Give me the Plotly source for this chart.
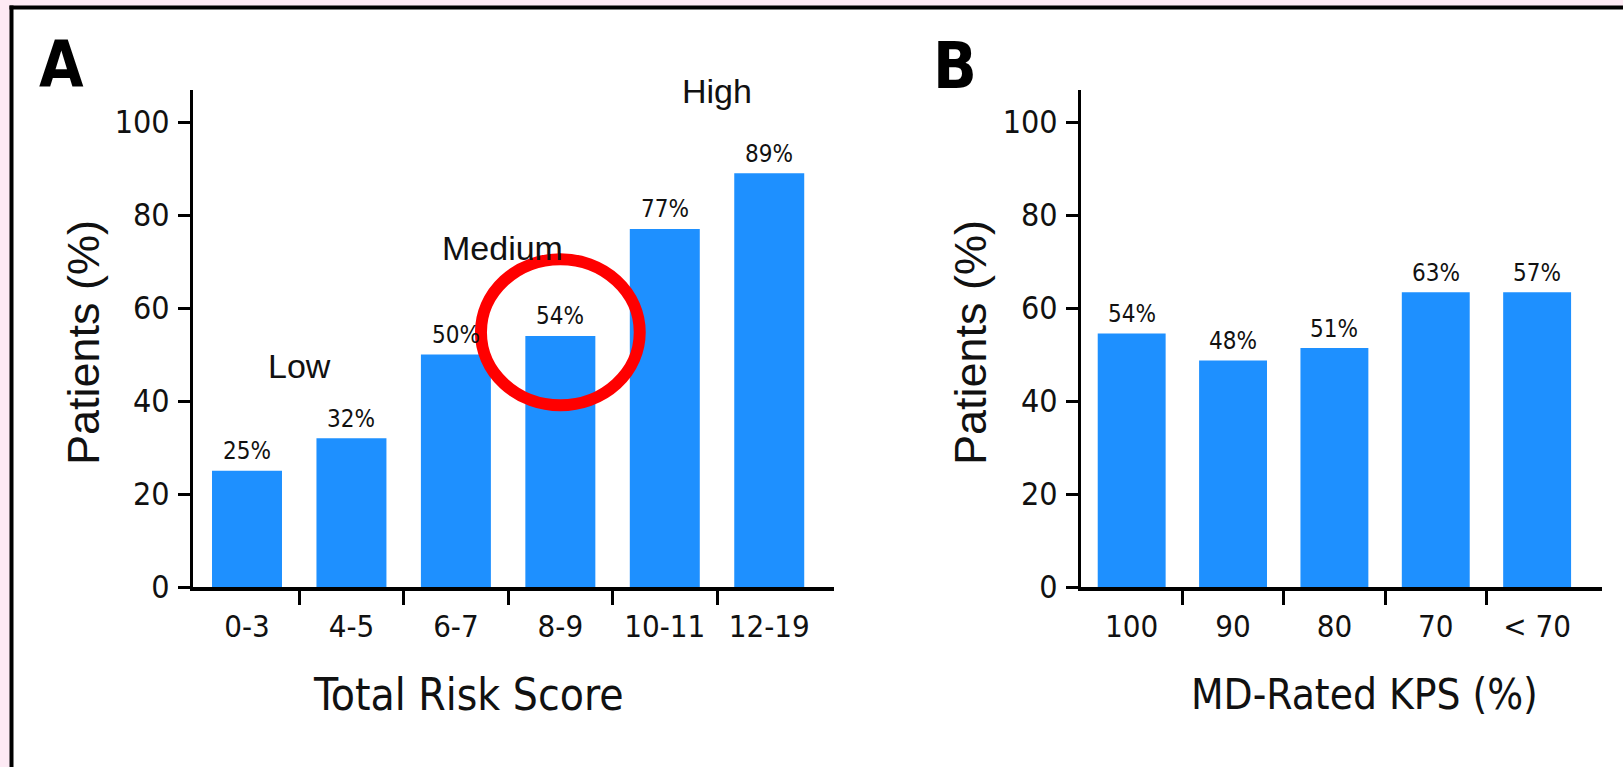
import plotly.graph_objects as go

# ---------------- data ----------------
cats_a = ["0-3", "4-5", "6-7", "8-9", "10-11", "12-19"]
vals_a = [25, 32, 50, 54, 77, 89]
labels_a = ["25%", "32%", "50%", "54%", "77%", "89%"]

cats_b = ["100", "90", "80", "70", "< 70"]
vals_b = [54.5, 48.7, 51.4, 63.4, 63.4]
labels_b = ["54%", "48%", "51%", "63%", "57%"]

groups_a = ["Low", "Medium", "High"]
groups_pos = [0.5, 2.45, 4.5]
groups_y = [47.5, 72.9, 106.7]

y_ticks = [0, 20, 40, 60, 80, 100]
highlight = 3  # index of highlighted bar in panel A

# figure is slightly larger than the 1623x767 window so its edges fall off-screen
W, H = 1660, 790
NARROW = "DejaVu Sans Condensed, Liberation Sans Narrow, Arial Narrow, Liberation Sans, Arial"
REG = "Liberation Sans, Arial, Helvetica"
BLUE = "#1E90FF"


def px(v):
    return v / W


def py(v):
    return 1 - v / H


fig = go.Figure()

xa = list(range(len(cats_a)))
xb = list(range(len(cats_b)))

fig.add_trace(go.Bar(x=xa, y=vals_a, marker=dict(color=BLUE, line=dict(width=0)),
                     width=0.67, xaxis="x", yaxis="y", showlegend=False, hoverinfo="skip"))
fig.add_trace(go.Bar(x=xb, y=vals_b, marker=dict(color=BLUE, line=dict(width=0)),
                     width=0.67, xaxis="x2", yaxis="y2", showlegend=False, hoverinfo="skip"))


def xaxis_cfg(domain, n, cats, rng, anchor):
    return dict(
        domain=domain, range=rng, tickmode="array", tickvals=list(range(n)), ticktext=cats,
        ticks="outside", ticklen=9, tickcolor="rgba(0,0,0,0)",
        tickfont=dict(family=NARROW, size=31, color="#111"),
        showline=True, linecolor="black", linewidth=3.5, showgrid=False, zeroline=False,
        minor=dict(tickmode="array", tickvals=[i + 0.5 for i in range(n - 1)],
                   ticks="outside", ticklen=14, tickwidth=2.5, tickcolor="black", showgrid=False),
        fixedrange=True, automargin=False, anchor=anchor,
    )


def yaxis_cfg(domain, anchor):
    return dict(
        domain=domain, range=[0, 107], tickmode="array", tickvals=y_ticks,
        ticks="outside", ticklen=12, tickwidth=2.5, tickcolor="black",
        tickfont=dict(family=NARROW, size=32, color="#111"), ticklabelstandoff=2,
        showline=True, linecolor="black", linewidth=3, showgrid=False, zeroline=False,
        anchor=anchor, fixedrange=True, automargin=False,
    )


ydom = [py(587), py(89.5)]
fig.update_layout(
    template="none",
    width=W, height=H, autosize=False, margin=dict(l=0, r=0, t=0, b=0, pad=0),
    paper_bgcolor="#FDEAF4", plot_bgcolor="rgba(0,0,0,0)",
    showlegend=False,
    xaxis=xaxis_cfg([px(193), px(834)], len(cats_a), cats_a, [-0.517, 5.62], "y"),
    yaxis=yaxis_cfg(ydom, "x"),
    xaxis2=xaxis_cfg([px(1081), px(1602)], len(cats_b), cats_b, [-0.50, 4.64], "y2"),
    yaxis2=yaxis_cfg(ydom, "x2"),
)

# white background panel with black top and left borders only
fig.add_shape(type="rect", xref="paper", yref="paper",
              x0=px(11.5), x1=1.2, y0=-0.2, y1=py(7.5),
              fillcolor="white", line=dict(width=0), layer="below")
fig.add_shape(type="line", xref="paper", yref="paper",
              x0=px(9.5), x1=1.2, y0=py(7.5), y1=py(7.5),
              line=dict(color="black", width=4), layer="below")
fig.add_shape(type="line", xref="paper", yref="paper",
              x0=px(11.5), x1=px(11.5), y0=-0.2, y1=py(5.5),
              line=dict(color="black", width=4), layer="below")

ann = []
# value labels
for i, (v, t) in enumerate(zip(vals_a, labels_a)):
    ann.append(dict(x=i, y=v, xref="x", yref="y", text=t, showarrow=False,
                    xanchor="center", yanchor="middle",
                    yshift=19.5, font=dict(family=NARROW, size=24, color="#111")))
for i, (v, t) in enumerate(zip(vals_b, labels_b)):
    ann.append(dict(x=i, y=v, xref="x2", yref="y2", text=t, showarrow=False,
                    xanchor="center", yanchor="middle",
                    yshift=19.5, font=dict(family=NARROW, size=24, color="#111")))
# risk group labels
for g, gx, gy in zip(groups_a, groups_pos, groups_y):
    ann.append(dict(x=gx, y=gy, xref="x", yref="y", text=g, showarrow=False,
                    xanchor="center", yanchor="middle",
                    font=dict(family=REG, size=34, color="#111")))
# panel letters
for lx, ly, letter in [(61, 64.5, "A"), (955, 66, "B")]:
    ann.append(dict(x=px(lx), y=py(ly), xref="paper", yref="paper", text="<b>%s</b>" % letter,
                    xanchor="center", yanchor="middle",
                    showarrow=False, font=dict(family=NARROW, size=64, color="black")))
# axis titles
for tx, txt, fs in [(468, "Total Risk Score", 44), (1364, "MD-Rated KPS (%)", 42)]:
    ann.append(dict(x=px(tx), y=py(694), xref="paper", yref="paper", text=txt,
                    xanchor="center", yanchor="middle",
                    showarrow=False, font=dict(family=NARROW, size=fs, color="#111")))
for tx in [83, 970]:
    ann.append(dict(x=px(tx), y=py(343), xref="paper", yref="paper", text="Patients (%)",
                    xanchor="center", yanchor="middle",
                    textangle=-90, showarrow=False, font=dict(family=REG, size=45, color="#111")))
fig.update_layout(annotations=ann)

# red highlight ellipse around the highlighted bar
cy = vals_a[highlight] + 0.8
fig.add_shape(type="circle", xref="x", yref="y",
              x0=highlight - 0.76, x1=highlight + 0.76, y0=cy - 15.7, y1=cy + 15.7,
              line=dict(color="#FF0000", width=12), layer="above")

fig.write_html("out.html", config={"responsive": False, "displayModeBar": False},
               post_script="document.body.style.margin='0';document.body.style.overflow='hidden';"
                           "document.documentElement.style.overflow='hidden';")
